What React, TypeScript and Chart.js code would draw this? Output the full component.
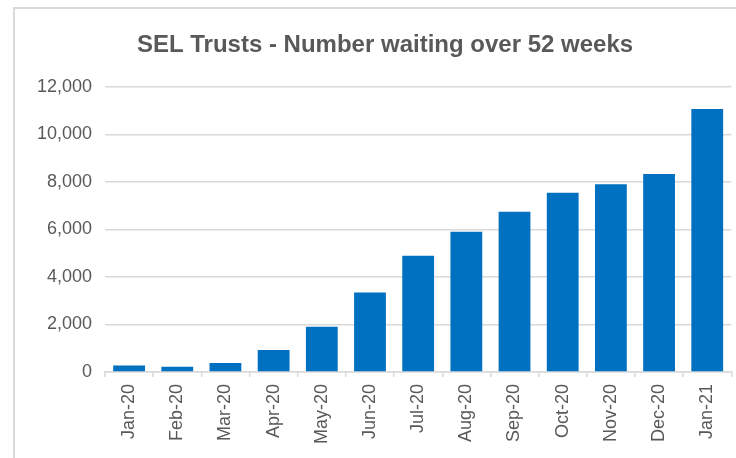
import React, { useEffect, useRef } from "react";
import { Chart, registerables } from "chart.js";

Chart.register(...registerables);

const categories = ["Jan-20", "Feb-20", "Mar-20", "Apr-20", "May-20", "Jun-20", "Jul-20", "Aug-20", "Sep-20", "Oct-20", "Nov-20", "Dec-20", "Jan-21"];
const waitingOver52Weeks = [270, 220, 380, 930, 1900, 3350, 4890, 5900, 6740, 7540, 7900, 8330, 11070];
const yTicks = [0, 2000, 4000, 6000, 8000, 10000, 12000];
const titleText = "SEL Trusts - Number waiting over 52 weeks";

const frame = {
  id: "frame",
  beforeDraw(chart: any) {
    const ctx = chart.ctx;
    ctx.save();
    ctx.fillStyle = "#ffffff";
    ctx.fillRect(0, 0, chart.width, chart.height);
    ctx.strokeStyle = "#d9d9d9";
    ctx.lineWidth = 2;
    ctx.beginPath();
    ctx.moveTo(14, chart.height + 5);
    ctx.lineTo(14, 8);
    ctx.lineTo(chart.width + 5, 8);
    ctx.stroke();
    ctx.restore();
  },
};

export default function App() {
  const ref = useRef<HTMLCanvasElement>(null);
  useEffect(() => {
    document.body.style.margin = "0";
    const chart = new Chart(ref.current!, {
      type: "bar",
      data: {
        labels: categories,
        datasets: [
          {
            data: waitingOver52Weeks,
            backgroundColor: "#0070C0",
            borderWidth: 0,
            barPercentage: 0.66,
            categoryPercentage: 1,
          },
        ],
      },
      options: {
        animation: false,
        responsive: false,
        maintainAspectRatio: false,
        layout: { padding: { left: 38, right: 4, top: 0, bottom: 0 } },
        plugins: {
          legend: { display: false },
          tooltip: { enabled: false },
          title: {
            display: true,
            text: titleText,
            color: "#595959",
            font: { family: "'Liberation Sans', Arial, sans-serif", size: 24, weight: "bold", lineHeight: 1.2 },
            padding: { top: 31, bottom: 27 },
          },
        },
        scales: {
          x: {
            grid: {
              display: true,
              drawOnChartArea: false,
              drawTicks: true,
              tickLength: 5,
              color: "#d9d9d9",
              lineWidth: 1.5,
            },
            border: { display: true, color: "#d9d9d9", width: 1.5 },
            ticks: {
              color: "#595959",
              font: { family: "'Liberation Sans', Arial, sans-serif", size: 18 },
              minRotation: 90,
              maxRotation: 90,
              padding: 7,
              autoSkip: false,
            },
            afterFit(scale: any) {
              scale.height = 86;
            },
          },
          y: {
            min: 0,
            max: 12000,
            afterBuildTicks(scale: any) {
              scale.ticks = yTicks.map((v) => ({ value: v }));
            },
            grid: { color: "#d9d9d9", lineWidth: 1.5, drawTicks: false },
            border: { display: false },
            ticks: {
              color: "#595959",
              font: { family: "'Liberation Sans', Arial, sans-serif", size: 18 },
              padding: 13,
              callback: (v: any) => Number(v).toLocaleString("en-US"),
            },
            afterFit(scale: any) {
              scale.width = 67;
            },
          },
        },
      },
      plugins: [frame],
    });
    return () => chart.destroy();
  }, []);
  return (
    <div style={{ position: "absolute", left: 0, top: 0, width: 736, height: 458 }}>
      <canvas ref={ref} width={736} height={458} style={{ display: "block" }} />
    </div>
  );
}
